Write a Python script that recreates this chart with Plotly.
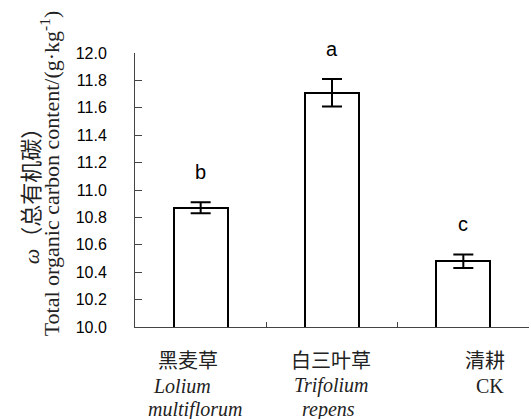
import plotly.graph_objects as go

categories = ["黑麦草", "白三叶草", "清耕"]
latin_line1 = ["<i>Lolium</i>", "<i>Trifolium</i>", "CK"]
latin_line2 = ["<i>multiflorum</i>", "<i>repens</i>", ""]
means = [10.87, 11.71, 10.48]
errors = [0.04, 0.10, 0.05]
letters = ["b", "a", "c"]
y_ticks = [10.0, 10.2, 10.4, 10.6, 10.8, 11.0, 11.2, 11.4, 11.6, 11.8, 12.0]

fig = go.Figure()
fig.add_trace(go.Bar(
    x=categories, y=means,
    width=0.41,
    marker=dict(color="white", line=dict(color="black", width=2)),
    error_y=dict(type="data", array=errors, visible=True, color="black", thickness=2, width=10),
    showlegend=False,
))

ann = []
label_shift = [-13, -1, 22]
latin_shift1 = [-19, -1, 27]
latin_shift2 = [-6, -4, 0]
for i, c in enumerate(categories):
    ann.append(dict(x=c, y=-0.117, xref="x", yref="paper", text=c, showarrow=False,
                    xshift=label_shift[i], yanchor="middle",
                    font=dict(family="Noto Sans CJK SC", size=20, color="#222")))
    ann.append(dict(x=c, y=-0.215, xref="x", yref="paper", text=latin_line1[i], showarrow=False,
                    xshift=latin_shift1[i], yanchor="middle",
                    font=dict(family="Liberation Serif", size=20, color="#222")))
    if latin_line2[i]:
        ann.append(dict(x=c, y=-0.302, xref="x", yref="paper", text=latin_line2[i], showarrow=False,
                        xshift=latin_shift2[i], yanchor="middle",
                        font=dict(family="Liberation Serif", size=20, color="#222")))
    ann.append(dict(x=c, y=means[i] + errors[i], xref="x", yref="y", text=letters[i], showarrow=False,
                    yshift=30, yanchor="middle",
                    font=dict(family="Liberation Sans", size=20, color="black")))

ann.append(dict(x=0, y=0.499, xref="paper", yref="paper", xshift=-104,
                text="<i>ω</i>（总有机碳）", textangle=-90, showarrow=False,
                xanchor="center", yanchor="middle",
                font=dict(family="Liberation Serif, Noto Sans CJK SC", size=22, color="#222")))
ann.append(dict(x=0, y=0.561, xref="paper", yref="paper", xshift=-85,
                text="Total organic carbon content/(g·kg<sup>-1</sup>)", textangle=-90, showarrow=False,
                xanchor="center", yanchor="middle",
                font=dict(family="Liberation Serif", size=22, color="#222")))

fig.update_layout(
    width=531, height=419,
    margin=dict(l=135, r=2, t=53, b=92),
    plot_bgcolor="white", paper_bgcolor="white",
    annotations=ann,
    xaxis=dict(range=[-0.5, 2.5], showticklabels=False, showline=True, linecolor="#444", linewidth=1,
               ticks="inside", ticklen=5, tickcolor="#444", tickmode="array",
               tickvals=[0.5, 1.5, 2.5], showgrid=False, zeroline=False),
    yaxis=dict(range=[10, 12], tickvals=y_ticks, ticktext=[f"{v:.1f}" for v in y_ticks],
               showline=True, linecolor="#444", linewidth=1, ticks="inside", ticklen=7,
               tickcolor="#444", showgrid=False, zeroline=False, ticklabelstandoff=24,
               tickfont=dict(family="Liberation Sans", size=16, color="black")),
    bargap=0,
)

fig.write_html("out.html", config={"displayModeBar": False},
               post_script="document.body.style.margin='0';document.body.style.overflow='hidden';")
